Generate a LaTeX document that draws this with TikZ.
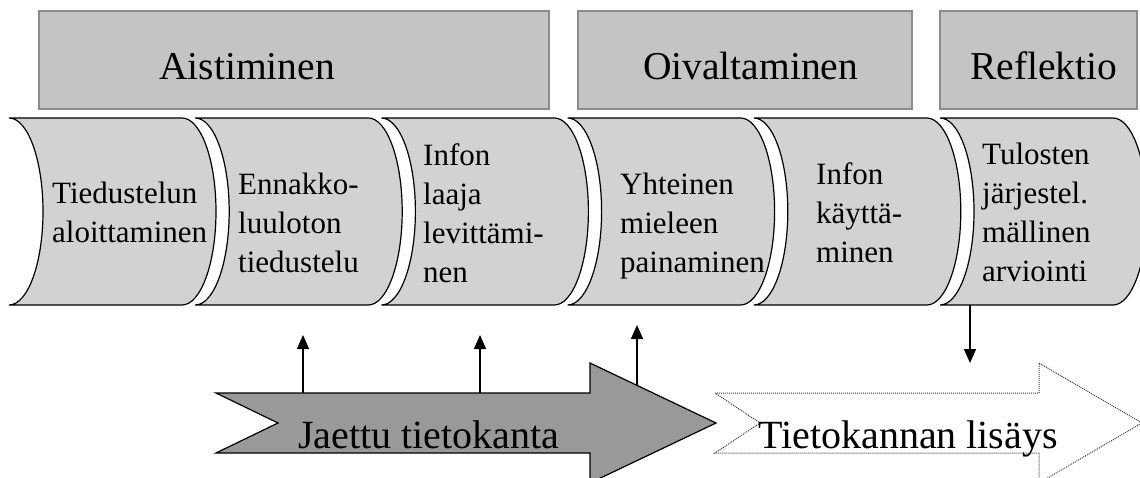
\documentclass[tikz,border=0pt]{standalone}
\usepackage{fontspec}
\setmainfont{Liberation Serif}
\usetikzlibrary{arrows.meta}

\definecolor{boxfill}{HTML}{C4C4C4}
\definecolor{boxedge}{HTML}{8C8C8C}
\definecolor{tapefill}{HTML}{D2D2D2}
\definecolor{basefill}{HTML}{999999}

% one curved process segment, left top corner at x = #1
\newcommand\tapeseg[1]{%
  \filldraw[tape] (#1,118) -- ({#1+173},118)
    .. controls ({#1+191.8},118) and ({#1+207},159.9) .. ({#1+207},211.5)
    .. controls ({#1+207},263.1) and ({#1+191.8},305) .. ({#1+173},305)
    -- (#1,305)
    .. controls ({#1+18.8},305) and ({#1+34},263.1) .. ({#1+34},211.5)
    .. controls ({#1+34},159.9) and ({#1+18.8},118) .. cycle;}

\newcommand\steptext[1]{\parbox[t]{200pt}{\raggedright\fontsize{31}{39}\selectfont #1}}

\begin{document}
\begin{tikzpicture}[x=1pt,y=-1pt,
  phasebox/.style={draw=boxedge, fill=boxfill, line width=1.3pt},
  title/.style={font=\fontsize{39.5}{47}\selectfont, inner sep=0pt, anchor=base west},
  tape/.style={draw=black, fill=tapefill, line width=1.2pt},
  steplabel/.style={inner sep=0pt, anchor=base west},
  bigarrow/.style={draw=black, fill=basefill, line width=1.2pt},
  addarrow/.style={draw=black!75, fill=white, line width=1pt, densely dotted},
  conn/.style={-{Triangle[length=14pt,width=12pt]}, line width=1.5pt},
  arrowtext/.style={font=\fontsize{40}{48}\selectfont, inner sep=0pt, anchor=base west}
]
\useasboundingbox (0,0) rectangle (1140,478);
\clip (0,0) rectangle (1140,478);

% phase headers
\filldraw[phasebox] (39,11) rectangle (549,109);
\filldraw[phasebox] (578,11) rectangle (912,109);
\filldraw[phasebox] (940,11) rectangle (1137,109);
\node[title] (aist) at (159,80) {Aistiminen};
\node[title] (oival) at (643,80) {Oivaltaminen};
\node[title] (refl) at (970,80) {Reflektio};

% process segments
\tapeseg{9}
\tapeseg{195.2}
\tapeseg{381.4}
\tapeseg{567.6}
\tapeseg{753.8}
\tapeseg{940}

\node[steplabel] (s1) at (52,204) {\steptext{Tiedustelun\\aloittaminen}};
\node[steplabel] (s2) at (238,195) {\steptext{Ennakko-\\luuloton\\tiedustelu}};
\node[steplabel] (s3) at (423,166) {\steptext{Infon\\laaja\\levittämi-\\nen}};
\node[steplabel] (s4) at (620,195) {\steptext{Yhteinen\\mieleen\\painaminen}};
\node[steplabel] (s5) at (816,185) {\steptext{Infon\\käyttä-\\minen}};
\node[steplabel] (s6) at (982,165) {\steptext{Tulosten\\järjestel.\\mällinen\\arviointi}};

% database arrows
\filldraw[addarrow] (715,393) -- (1039,393) -- (1039,363) -- (1142,423)
  -- (1039,483) -- (1039,453) -- (715,453) -- (760,423) -- cycle;
\filldraw[bigarrow] (216,393) -- (590,393) -- (590,363) -- (716,423)
  -- (590,483) -- (590,453) -- (216,453) -- (278,423) -- cycle;
\node[arrowtext] (shared) at (298,448) {Jaettu tietokanta};
\node[arrowtext] (added) at (758,448) {Tietokannan lisäys};

% connectors
\coordinate (u1a) at (303,393);  \coordinate (u1b) at (303,335);
\coordinate (u2a) at (480,393);  \coordinate (u2b) at (480,335);
\coordinate (u3a) at (637,385.4); \coordinate (u3b) at (637,325);
\coordinate (d1a) at (970,305);  \coordinate (d1b) at (970,363);
\draw[conn] (u1a) -- (u1b);
\draw[conn] (u2a) -- (u2b);
\draw[conn] (u3a) -- (u3b);
\draw[conn] (d1a) -- (d1b);
\end{tikzpicture}
\end{document}
